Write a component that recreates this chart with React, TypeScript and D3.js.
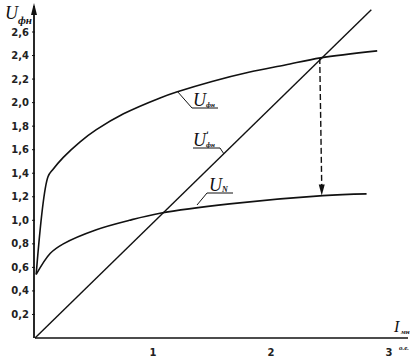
import React from "react";
import * as d3 from "d3";

const uPhnX = [0.01, 0.11, 0.15, 0.24, 0.38, 0.52, 0.75, 1.06, 1.2, 1.5, 1.82, 2.12, 2.42, 2.9];
const uPhnY = [0.54, 1.37, 1.43, 1.535, 1.665, 1.77, 1.905, 2.04, 2.09, 2.18, 2.26, 2.32, 2.38, 2.44];
const uNX = [0.01, 0.13, 0.24, 0.52, 0.8, 1.06, 1.65, 2.44, 2.81];
const uNY = [0.54, 0.72, 0.8, 0.92, 1.0, 1.06, 1.14, 1.21, 1.225];
const uLineX = [0, 2.85];
const uLineY = [0, 2.79];
const yTicks = ["0,2", "0,4", "0,6", "0,8", "1,0", "1,2", "1,4", "1,6", "1,8", "2,0", "2,2", "2,4", "2,6"];
const yTickVals = [0.2, 0.4, 0.6, 0.8, 1.0, 1.2, 1.4, 1.6, 1.8, 2.0, 2.2, 2.4, 2.6];
const xTicks = [1, 2, 3];
const arrowX = 2.43;
const arrowTop = 2.38;
const arrowBottom = 1.21;

export default function App() {
  const W = 417, H = 357;
  const x = d3.scaleLinear().domain([0, 3]).range([35, 389]);
  const y = d3.scaleLinear().domain([0, 2.6]).range([338, 32]);
  const line = d3.line<[number, number]>().x(d => x(d[0])).y(d => y(d[1])).curve(d3.curveCatmullRom.alpha(0.5));
  const straight = d3.line<[number, number]>().x(d => x(d[0])).y(d => y(d[1]));
  const phn = uPhnX.map((v, i) => [v, uPhnY[i]] as [number, number]);
  const un = uNX.map((v, i) => [v, uNY[i]] as [number, number]);
  const ln = uLineX.map((v, i) => [v, uLineY[i]] as [number, number]);
  const ax = x(arrowX);
  const ayT = y(arrowTop);
  const ayB = y(arrowBottom);
  const serif = "'Liberation Serif', 'DejaVu Serif', serif";
  const sans = "'DejaVu Sans', sans-serif";
  return (
    <svg width={W} height={H} style={{ position: "absolute", left: 0, top: 0, background: "#fff" }}>
      <rect width={W} height={H} fill="#fff" />
      {/* axes */}
      <line x1={x(0)} y1={y(0)} x2={408} y2={y(0)} stroke="#111" strokeWidth={1.6} />
      <line x1={x(0) - 1} y1={y(0)} x2={x(0) - 1} y2={6} stroke="#111" strokeWidth={1.8} />
      <path d={`M${x(0) - 1},3 L${x(0) - 4},15 L${x(0) + 2},15 Z`} fill="#111" />
      {yTickVals.map((v, i) => (
        <g key={i}>
          <line x1={x(0) - 3} x2={x(0)} y1={y(v)} y2={y(v)} stroke="#111" strokeWidth={1} />
          <text x={29} y={y(v) + 3.5} textAnchor="end" fontFamily={sans} fontSize={10} fontWeight="bold" fill="#222">
            {yTicks[i]}
          </text>
        </g>
      ))}
      {xTicks.map(v => (
        <text key={v} x={x(v)} y={356} textAnchor="middle" fontFamily={sans} fontSize={10} fontWeight="bold" fill="#222">
          {v}
        </text>
      ))}
      {/* axis labels */}
      <text x={5} y={19} fontFamily={serif} fontStyle="italic" fontSize={18} fill="#111">U</text>
      <text x={18} y={24} fontFamily={serif} fontStyle="italic" fontWeight="bold" fontSize={11} fill="#111">фн</text>
      <text x={394} y={332} fontFamily={serif} fontStyle="italic" fontSize={16} fill="#111">I</text>
      <text x={401} y={334} fontFamily={serif} fontStyle="italic" fontWeight="bold" fontSize={7} fill="#111">мн</text>
      <text x={399} y={350} fontFamily={serif} fontStyle="italic" fontWeight="bold" fontSize={7} fill="#111">о.е.</text>
      {/* curves */}
      <path d={line(phn) || ""} fill="none" stroke="#111" strokeWidth={1.6} />
      <path d={line(un) || ""} fill="none" stroke="#111" strokeWidth={1.6} />
      <path d={straight(ln) || ""} fill="none" stroke="#111" strokeWidth={1.4} />
      {/* arrow */}
      <line x1={ax - 2} y1={ayT} x2={ax} y2={ayB - 9} stroke="#111" strokeWidth={1.4} strokeDasharray="6,3" />
      <path d={`M${ax},${ayB} L${ax - 3},${ayB - 11} L${ax + 3},${ayB - 11} Z`} fill="#111" />
      {/* curve labels */}
      <path d="M177,91 L192,108 L218,108" fill="none" stroke="#111" strokeWidth={1} />
      <text x={193} y={106} fontFamily={serif} fontStyle="italic" fontSize={18} fill="#111">U</text>
      <text x={206} y={107} fontFamily={serif} fontStyle="italic" fontWeight="bold" fontSize={7} fill="#111">фн</text>
      <path d="M193,148 L220,148 L224,154" fill="none" stroke="#111" strokeWidth={1} />
      <text x={193} y={146} fontFamily={serif} fontStyle="italic" fontSize={18} fill="#111">U</text>
      <text x={206} y={140} fontFamily={sans} fontWeight="bold" fontSize={10} fill="#111">ʹ</text>
      <text x={206} y={147} fontFamily={serif} fontStyle="italic" fontWeight="bold" fontSize={7} fill="#111">фн</text>
      <path d="M197,205 L207,193 L233,193" fill="none" stroke="#111" strokeWidth={1} />
      <text x={209} y={191} fontFamily={serif} fontStyle="italic" fontSize={18} fill="#111">U</text>
      <text x={222} y={192} fontFamily={serif} fontStyle="italic" fontWeight="bold" fontSize={8} fill="#111">N</text>
    </svg>
  );
}
